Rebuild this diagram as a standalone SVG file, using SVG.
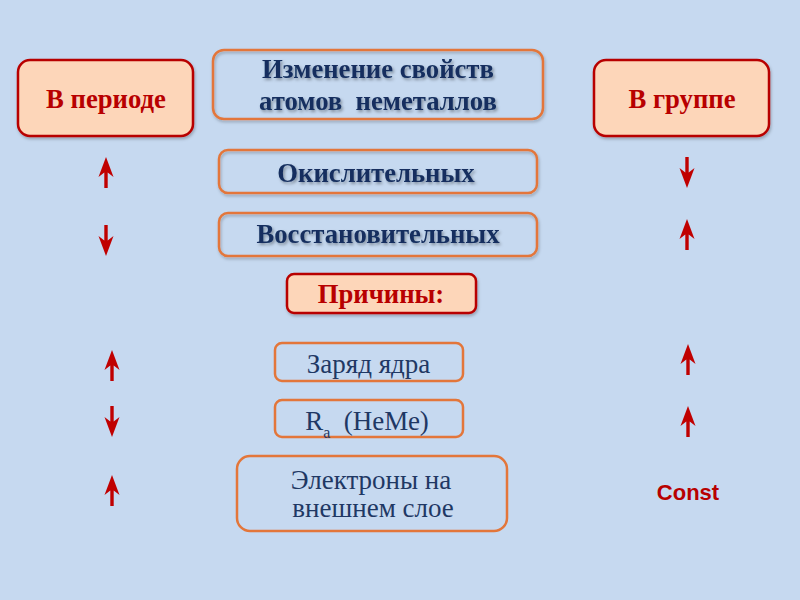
<svg xmlns="http://www.w3.org/2000/svg" width="800" height="600" viewBox="0 0 800 600">
<style>
.bg{fill:#c6d9f0}
.rbox{fill:#fdd6b9;stroke:#b80000;stroke-width:2.5}
.obox{fill:none;stroke:#e3763a;stroke-width:2.5}
.rt{font-family:"Liberation Serif","Times New Roman",serif;font-weight:bold;font-size:26.7px;fill:#b80000;text-anchor:middle}
.nt{font-family:"Liberation Serif","Times New Roman",serif;font-weight:bold;font-size:26.7px;fill:#142f5e;text-anchor:middle}
.lt{font-family:"Liberation Serif","Times New Roman",serif;font-size:27px;fill:#1f3864;text-anchor:middle}
.ct{font-family:"Liberation Sans",Arial,sans-serif;font-weight:bold;font-size:22px;fill:#b80000;text-anchor:middle}
.arr{fill:#c00000}
</style>
<defs>
<filter id="sh" x="-10%" y="-10%" width="120%" height="130%">
<feDropShadow dx="1" dy="2" stdDeviation="1.5" flood-color="#000" flood-opacity="0.25"/>
</filter>
<filter id="tsh" x="-5%" y="-20%" width="110%" height="150%">
<feDropShadow dx="1.5" dy="2" stdDeviation="1.5" flood-color="#000" flood-opacity="0.35"/>
</filter>
<path id="up" d="M0,0 L7.5,20 L1.7,15.5 L1.7,31 L-1.7,31 L-1.7,15.5 L-7.5,20 Z"/>
</defs>
<rect class="bg" x="0" y="0" width="800" height="600"/>

<g id="period">
<rect class="rbox" x="18" y="60" width="175" height="76" rx="12" filter="url(#sh)"/>
<text class="rt" x="106" y="108">В периоде</text>
</g>
<g id="title">
<rect class="obox" x="213" y="50" width="330" height="69" rx="11" filter="url(#sh)"/>
<text class="nt" x="378" y="78" filter="url(#tsh)">Изменение свойств</text>
<text class="nt" x="378" y="110" filter="url(#tsh)" xml:space="preserve">атомов  неметаллов</text>
</g>
<g id="group">
<rect class="rbox" x="594" y="60" width="175" height="76" rx="12" filter="url(#sh)"/>
<text class="rt" x="682" y="108">В группе</text>
</g>
<g id="oxid">
<rect class="obox" x="219" y="150" width="318" height="43" rx="9" filter="url(#sh)"/>
<text class="nt" x="376" y="182" filter="url(#tsh)">Окислительных</text>
</g>
<g id="reduct">
<rect class="obox" x="219" y="213" width="318" height="43" rx="9" filter="url(#sh)"/>
<text class="nt" x="378" y="243" filter="url(#tsh)">Восстановительных</text>
</g>
<g id="reasons">
<rect class="rbox" x="287" y="274" width="189" height="39" rx="7" filter="url(#sh)"/>
<text class="rt" x="381" y="303">Причины:</text>
</g>
<g id="charge">
<rect class="obox" x="275" y="343" width="188" height="38" rx="7"/>
<text class="lt" x="368.5" y="373">Заряд ядра</text>
</g>
<g id="radius">
<rect class="obox" x="275" y="400" width="188" height="37" rx="7"/>
<text class="lt" x="367" y="430">R<tspan font-size="16" dy="8">a</tspan><tspan dy="-8" xml:space="preserve">  (НеМе)</tspan></text>
</g>
<g id="electrons">
<rect class="obox" x="237" y="456" width="270" height="75" rx="13"/>
<text class="lt" x="371" y="489">Электроны на</text>
<text class="lt" x="373" y="517">внешнем слое</text>
</g>
<g id="const">
<text class="ct" x="688" y="500">Const</text>
</g>

<g id="connectors" class="arr">
<use href="#up" transform="translate(106,157)"/>
<use href="#up" transform="translate(106,256) rotate(180)"/>
<use href="#up" transform="translate(112,350)"/>
<use href="#up" transform="translate(112,437) rotate(180)"/>
<use href="#up" transform="translate(112,475)"/>
<use href="#up" transform="translate(687,188) rotate(180)"/>
<use href="#up" transform="translate(687,219)"/>
<use href="#up" transform="translate(688,344)"/>
<use href="#up" transform="translate(688,406)"/>
</g>
</svg>
